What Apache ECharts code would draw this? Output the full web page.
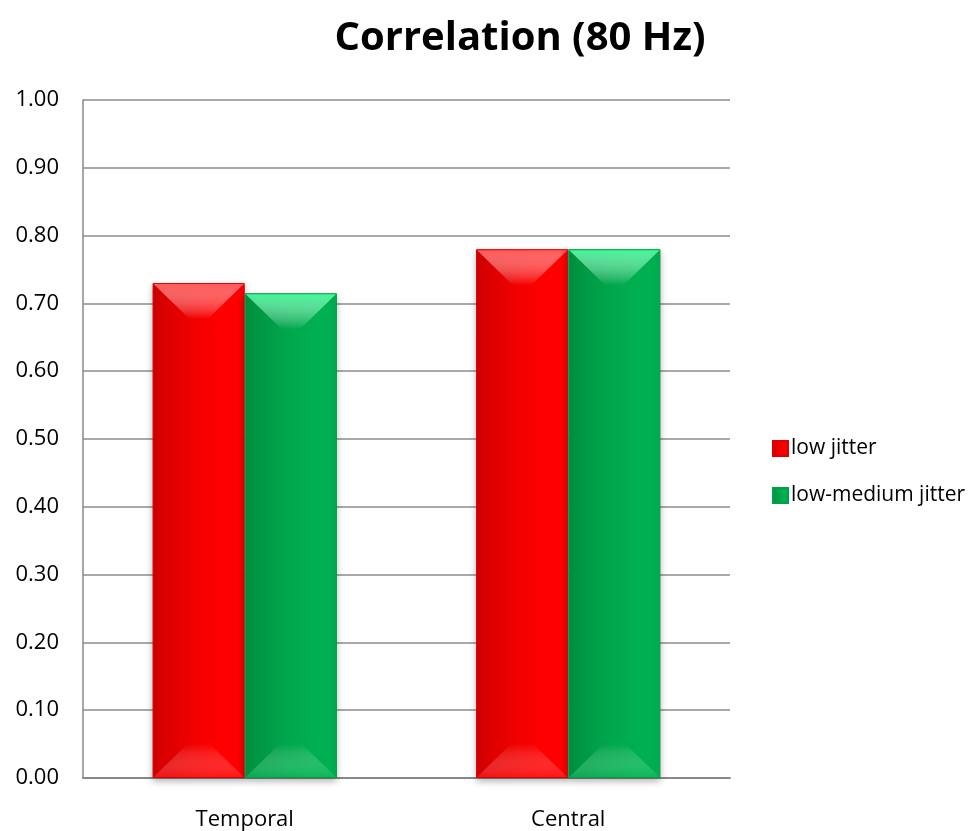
<!DOCTYPE html>
<html>
<head>
<meta charset="utf-8">
<script src="https://cdn.jsdelivr.net/npm/echarts@6/dist/echarts.min.js"></script>
<style>
  html, body { margin: 0; padding: 0; background: #fff; }
  #chart { width: 973px; height: 831px; }
</style>
</head>
<body>
<div id="chart"></div>
<script>
// Correlation at 80 Hz, by electrode region
const categories = ['Temporal', 'Central'];
const lowJitter = [0.73, 0.78];
const lowMediumJitter = [0.715, 0.78];
const seriesNames = ['low jitter', 'low-medium jitter'];
const yTicks = { min: 0, max: 1, interval: 0.1 };

const FONT = '"Open Sans", "Noto Sans", sans-serif';
const CATEGORY_GAP = 0.43;

// horizontal shading: darker along the left edge of each bar
function barFill(dark, mid, base) {
  return new echarts.graphic.LinearGradient(0, 0, 1, 0, [
    { offset: 0, color: dark },
    { offset: 0.45, color: mid },
    { offset: 0.75, color: base },
    { offset: 1, color: base }
  ]);
}

const palettes = [
  { dark: '#d00000', mid: '#f20000', base: '#ff0000', light: '#ff5a5a', bottom: 'rgba(255,40,40,0.55)' },
  { dark: '#009040', mid: '#00a64b', base: '#00b050', light: '#45f59a', bottom: 'rgba(20,190,95,0.55)' }
];

const chart = echarts.init(document.getElementById('chart'), null, { renderer: 'canvas' });

chart.setOption({
  backgroundColor: '#ffffff',
  animation: false,
  title: {
    text: 'Correlation (80 Hz)',
    left: 515,
    top: 14,
    textAlign: 'center',
    textStyle: { fontFamily: FONT, fontSize: 40, fontWeight: 'bold', color: '#000' }
  },
  legend: {
    orient: 'vertical',
    left: 767,
    top: 433,
    itemGap: 26,
    itemWidth: 15,
    itemHeight: 15,
    icon: 'rect',
    textStyle: { fontFamily: FONT, fontSize: 21, color: '#000', padding: [0, 0, 0, -2] },
    data: seriesNames
  },
  grid: { left: 83, right: 243, top: 100, bottom: 53, containLabel: false },
  xAxis: {
    type: 'category',
    data: categories,
    axisLine: { show: true, lineStyle: { color: '#888', width: 2 } },
    axisTick: { show: false },
    axisLabel: { fontFamily: FONT, fontSize: 22, color: '#000', margin: 31 }
  },
  yAxis: {
    type: 'value',
    min: yTicks.min,
    max: yTicks.max,
    interval: yTicks.interval,
    axisLine: { show: true, lineStyle: { color: '#888', width: 1.5 } },
    axisTick: { show: false },
    splitLine: { show: true, lineStyle: { color: '#8c8c8c', width: 1.5 } },
    axisLabel: {
      fontFamily: FONT, fontSize: 22, color: '#000', margin: 24,
      formatter: v => v.toFixed(2)
    }
  },
  series: [
    {
      name: seriesNames[0],
      type: 'bar',
      data: lowJitter,
      barGap: '0%',
      barCategoryGap: (CATEGORY_GAP * 100) + '%',
      itemStyle: {
        color: barFill(palettes[0].dark, palettes[0].mid, palettes[0].base),
        borderColor: '#e00000',
        borderWidth: 1,
        shadowColor: 'rgba(0,0,0,0.3)',
        shadowBlur: 7,
        shadowOffsetY: 3
      }
    },
    {
      name: seriesNames[1],
      type: 'bar',
      data: lowMediumJitter,
      itemStyle: {
        color: barFill(palettes[1].dark, palettes[1].mid, palettes[1].base),
        borderColor: '#00a048',
        borderWidth: 1,
        shadowColor: 'rgba(0,0,0,0.3)',
        shadowBlur: 7,
        shadowOffsetY: 3
      }
    },
    // bevel facets on the top and bottom of each bar
    {
      name: 'bevel',
      type: 'custom',
      silent: true,
      z: 5,
      data: categories.map((c, i) => [i, lowJitter[i], lowMediumJitter[i]]),
      renderItem: function (params, api) {
        const i = api.value(0);
        const catW = api.size([1, 0])[0];
        const barW = catW * (1 - CATEGORY_GAP) / 2;
        const center = api.coord([i, 0]);
        const baseY = center[1];
        const children = [];
        [api.value(1), api.value(2)].forEach((v, k) => {
          const p = palettes[k];
          const x0 = center[0] - barW + k * barW;
          const x1 = x0 + barW;
          const top = api.coord([i, v])[1];
          const h = 36;
          children.push({
            type: 'polygon',
            shape: { points: [[x0 + 1, top + 1], [x1 - 1, top + 1], [x1 - 1 - h, top + h], [x0 + 1 + h, top + h]] },
            style: {
              fill: new echarts.graphic.LinearGradient(0, 0, 0, 1, [
                { offset: 0, color: p.light },
                { offset: 1, color: 'rgba(255,255,255,0)' }
              ])
            }
          });
          const hb = 34;
          children.push({
            type: 'polygon',
            shape: { points: [[x0 + 1, baseY - 1], [x1 - 1, baseY - 1], [x1 - 1 - hb, baseY - hb], [x0 + 1 + hb, baseY - hb]] },
            style: {
              fill: new echarts.graphic.LinearGradient(0, 1, 0, 0, [
                { offset: 0, color: p.bottom },
                { offset: 1, color: 'rgba(255,255,255,0)' }
              ])
            }
          });
        });
        return { type: 'group', children };
      }
    }
  ]
});
</script>
</body>
</html>
